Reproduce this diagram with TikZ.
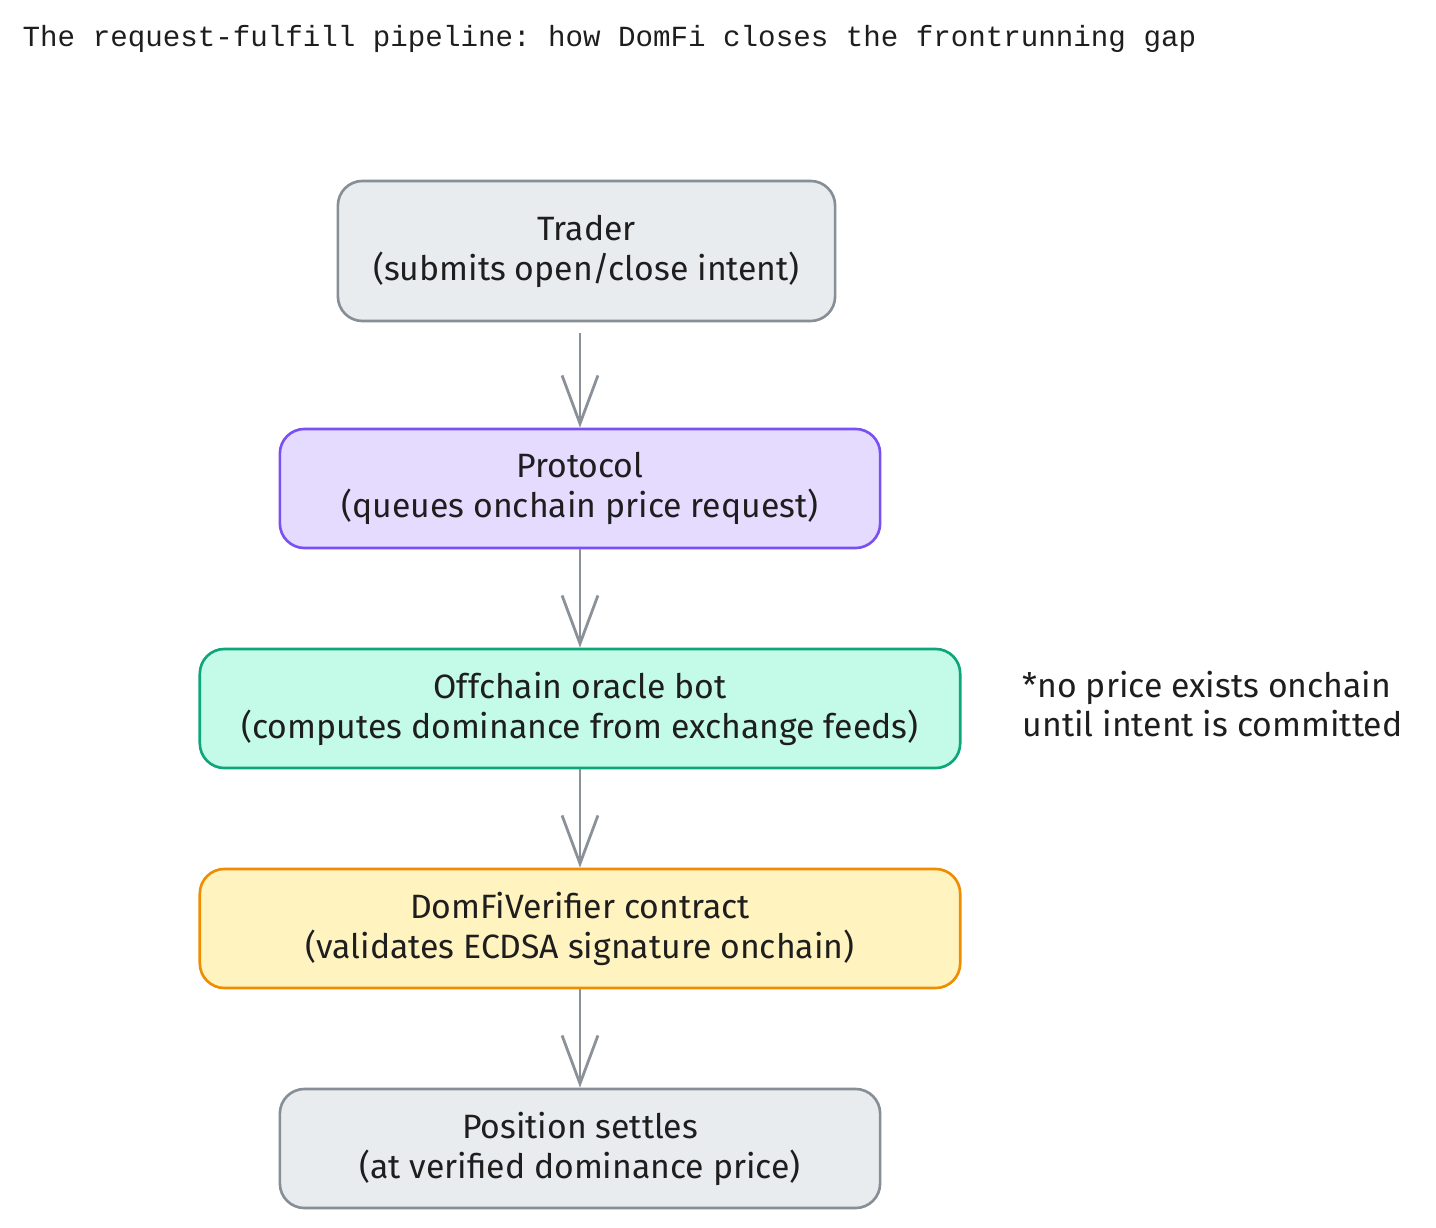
\documentclass[tikz,border=0pt]{standalone}
\usepackage{fontspec}
\setmainfont{Fira Sans}
\setmonofont{Liberation Mono}
\usetikzlibrary{arrows.meta}
\definecolor{ink}{HTML}{1E1E1E}
\definecolor{grayS}{HTML}{868E96}
\definecolor{grayF}{HTML}{E9ECEF}
\definecolor{purS}{HTML}{7950F2}
\definecolor{purF}{HTML}{E5DBFF}
\definecolor{grnS}{HTML}{0CA678}
\definecolor{grnF}{HTML}{C3FAE8}
\definecolor{orgS}{HTML}{F08C00}
\definecolor{orgF}{HTML}{FFF3BF}
\definecolor{arr}{HTML}{8A9199}
\begin{document}
\begin{tikzpicture}[x=0.01cm,y=-0.01cm,
  box/.style={draw, line width=0.75pt, rounded corners=7pt, align=center, text=ink,
    font=\fontsize{9.6}{11.4}\selectfont, inner sep=0pt},
  flow/.style={draw=arr, line width=0.7pt, -{Straight Barb[length=13.7pt,width=10.2pt,line width=0.8pt]}}
]
\useasboundingbox (0,0) rectangle (1436,1228);
\node[anchor=west, inner sep=0pt, font=\ttfamily\fontsize{8.3}{10}\selectfont, text=ink] (title) at (22,39)
  {The request-fulfill pipeline: how DomFi closes the frontrunning gap};

\node[box, draw=grayS, fill=grayF, minimum width=497*0.2845pt, minimum height=140*0.2845pt] (trader) at (586.5,251)
  {Trader\\(submits open/close intent)};
\node[box, draw=purS, fill=purF, minimum width=600*0.2845pt, minimum height=119*0.2845pt] (protocol) at (580,488.5)
  {Protocol\\(queues onchain price request)};
\node[box, draw=grnS, fill=grnF, minimum width=760*0.2845pt, minimum height=119*0.2845pt] (oracle) at (580,708.5)
  {Offchain oracle bot\\(computes dominance from exchange feeds)};
\node[box, draw=orgS, fill=orgF, minimum width=760*0.2845pt, minimum height=119*0.2845pt] (verifier) at (580,928.5)
  {DomFiVerifier contract\\(validates ECDSA signature onchain)};
\node[box, draw=grayS, fill=grayF, minimum width=600*0.2845pt, minimum height=119*0.2845pt] (settle) at (580,1148.5)
  {Position settles\\(at verified dominance price)};

\node[anchor=west, align=left, text=ink, font=\fontsize{9.6}{11}\selectfont, inner sep=0pt] (note) at (1022,704)
  {*no price exists onchain\\until intent is committed};

\draw[flow, shorten <=3pt] (trader.south -| protocol.north) -- (protocol.north);
\draw[flow] (protocol.south) -- (oracle.north);
\draw[flow] (oracle.south) -- (verifier.north);
\draw[flow] (verifier.south) -- (settle.north);
\end{tikzpicture}
\end{document}
